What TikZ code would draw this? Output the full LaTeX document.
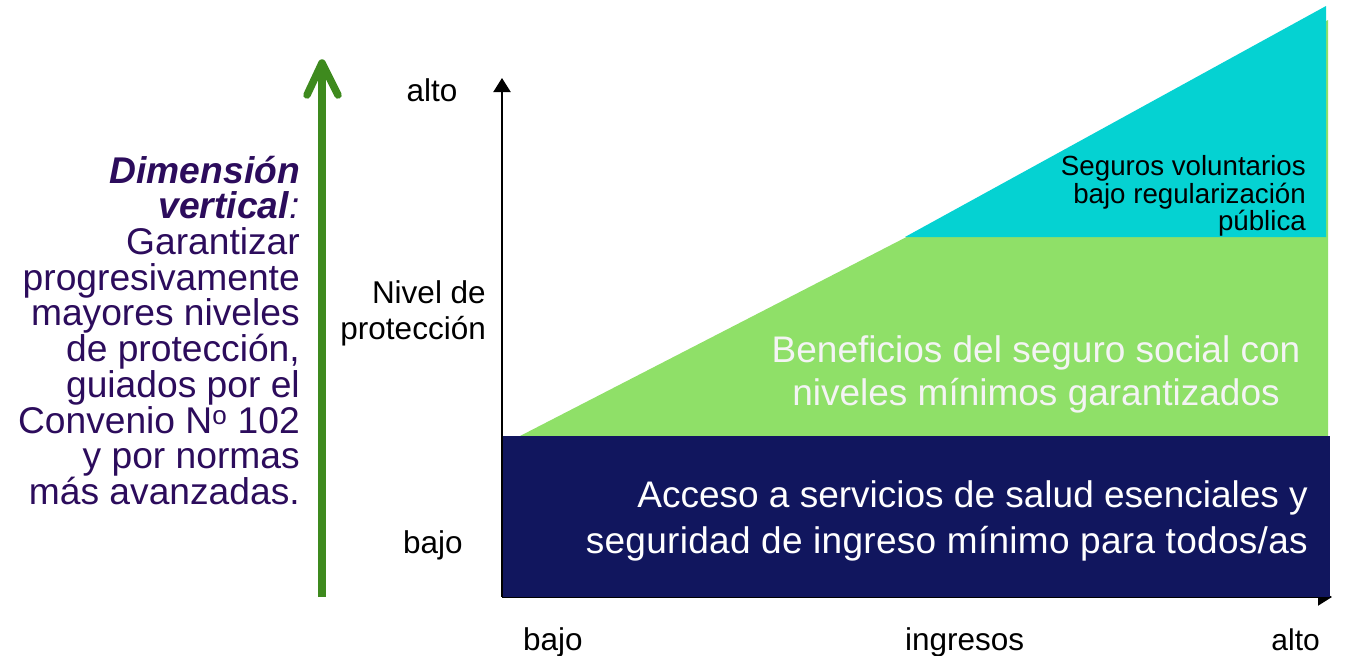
\documentclass[tikz,border=0pt]{standalone}
\usepackage{fontspec}
\setmainfont{Liberation Sans}
\usetikzlibrary{arrows.meta}
\definecolor{navyfill}{RGB}{17,22,94}
\definecolor{greenfill}{RGB}{143,224,104}
\definecolor{cyanfill}{RGB}{5,210,210}
\definecolor{purpletext}{RGB}{44,12,92}
\definecolor{arrowgreen}{RGB}{62,138,30}
\definecolor{lighttext}{RGB}{244,244,244}
\begin{document}
\begin{tikzpicture}[x=1pt,y=-1pt,
  lbl/.style={inner sep=0, font=\fontsize{31.5}{36}\selectfont, text=black},
  axisline/.style={line width=2, draw=black, -{Triangle[width=17,length=14]}},
  garrowline/.style={line width=7.5, draw=arrowgreen},
  bigtext/.style={inner sep=0, font=\fontsize{37.2}{35.7}\selectfont, text=purpletext, align=right},
  bandtext/.style={inner sep=0, font=\fontsize{37}{44}\selectfont},
  cyantext/.style={inner sep=0, font=\fontsize{27.7}{27.5}\selectfont, text=black, align=right}
]
\useasboundingbox (0,0) rectangle (1345,656);

% axes
\coordinate (vO) at (502,597);
\coordinate (vT) at (502,78);
\coordinate (hE) at (1332,597);
\draw[axisline] (vO) -- (hE);
\draw[axisline] (vO) -- (vT);

% bands
\fill[greenfill] (520,436) -- (1328,20) -- (1328,436) -- cycle;
\fill[cyanfill] (905,237) -- (1326,6) -- (1326,237) -- cycle;
\fill[navyfill] (503,436) rectangle (1330,597);

% green arrow
\coordinate (gB) at (322,597);
\coordinate (gT) at (322,66);
\coordinate (gL) at (307,95);
\coordinate (gR) at (338,95);
\coordinate (gTip) at (322,63);
\draw[garrowline] (gB) -- (gT);
\draw[garrowline, line cap=round, line join=round] (gL) -- (gTip) -- (gR);

% left text
\node[bigtext, anchor=south east] (dim) at (300,505) {%
\textbf{\textit{Dimensión}}\\
\textbf{\textit{vertical}}\textit{:}\\
Garantizar\\
progresivamente\\
mayores niveles\\
de protección,\\
guiados por el\\
Convenio N\textsuperscript{o} 102\\
y por normas\\
más avanzadas.};

% vertical axis labels
\node[lbl, anchor=base] (yalto) at (432,101) {alto};
\node[lbl, anchor=north east, align=right] (ynivel) at (486,280.5) {Nivel de\\protección};
\node[lbl, anchor=base west] (ybajo) at (403,553) {bajo};

% horizontal axis labels
\node[lbl, anchor=base west] (xbajo) at (523,650) {bajo};
\node[lbl, anchor=base west] (xing) at (905,650) {ingresos};
\node[lbl, anchor=base east, font=\fontsize{30}{36}\selectfont] (xalto) at (1320,650) {alto};

% band texts
\node[cyantext, anchor=north east] (seguros) at (1306,155.5) {Seguros voluntarios\\bajo regularización\\pública};
\node[bandtext, anchor=north, align=center, text=lighttext, font=\fontsize{37}{43}\selectfont] (benef) at (1036,335.5) {Beneficios del seguro social con\\niveles mínimos garantizados};
\node[bandtext, anchor=north east, align=right, text=white, font=\fontsize{37}{46}\selectfont] (acceso) at (1308,480.5) {Acceso a servicios de salud esenciales y\\{\addfontfeature{LetterSpace=0.8}seguridad de ingreso mínimo para todos/as}};
\end{tikzpicture}
\end{document}
